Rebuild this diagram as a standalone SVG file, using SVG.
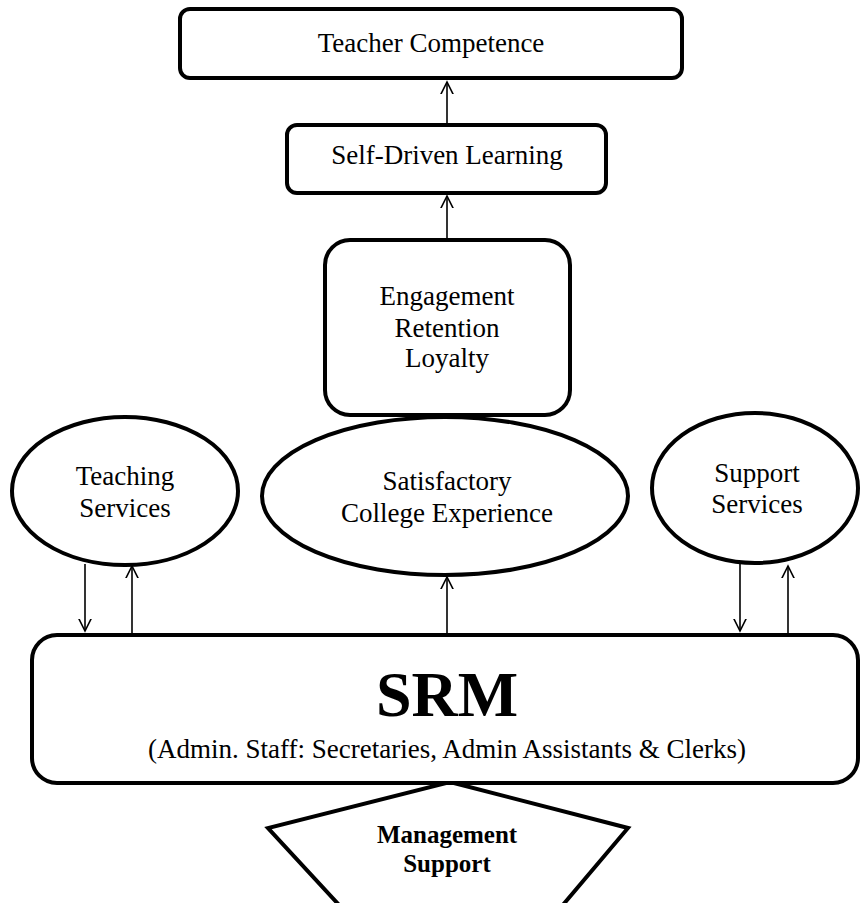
<svg xmlns="http://www.w3.org/2000/svg" width="860" height="903" viewBox="0 0 860 903">
<style>
.n{fill:#fff;stroke:#000;stroke-width:4}
.t{font-family:"Liberation Serif","Times New Roman",serif;font-size:27px;fill:#000;text-anchor:middle}
.b{font-weight:bold}
.c{stroke:#000;stroke-width:1.6;fill:none;marker-end:url(#ah)}
</style>
<defs>
<marker id="ah" markerUnits="userSpaceOnUse" markerWidth="24" markerHeight="24" viewBox="-12 -12 24 24" refX="0" refY="0" orient="auto">
<path d="M-16,-8 L0,0 L-16,8" fill="none" stroke="#000" stroke-width="1.6"/>
</marker>
</defs>
<g id="connectors">
<line class="c" x1="447" y1="125" x2="447" y2="82"/>
<line class="c" x1="447" y1="240" x2="447" y2="196"/>
<line class="c" x1="447" y1="633" x2="447" y2="577"/>
<line class="c" x1="85" y1="564" x2="85" y2="631"/>
<line class="c" x1="132" y1="633" x2="132" y2="566"/>
<line class="c" x1="740" y1="563" x2="740" y2="631"/>
<line class="c" x1="788" y1="633" x2="788" y2="566"/>
</g>
<g id="management-support">
<polygon class="n" points="450,782 628,828 562,906 340,906 268,828" stroke-width="5"/>
<text class="t b" x="447" y="843" style="font-size:25px">Management</text>
<text class="t b" x="447" y="872" style="font-size:25px">Support</text>
</g>
<g id="srm">
<rect class="n" x="32" y="635" width="826" height="148" rx="25" stroke-width="5"/>
<text class="t b" x="447" y="716" style="font-size:64px">SRM</text>
<text class="t" x="447" y="758">(Admin. Staff: Secretaries, Admin Assistants &amp; Clerks)</text>
</g>
<g id="teacher-competence">
<rect class="n" x="180" y="9" width="502" height="69" rx="10"/>
<text class="t" x="431" y="52">Teacher Competence</text>
</g>
<g id="self-driven-learning">
<rect class="n" x="287" y="125" width="319" height="68" rx="10"/>
<text class="t" x="447" y="164">Self-Driven Learning</text>
</g>
<g id="engagement">
<rect class="n" x="325" y="240" width="245" height="175" rx="25"/>
<text class="t" x="447" y="305">Engagement</text>
<text class="t" x="447" y="337">Retention</text>
<text class="t" x="447" y="367">Loyalty</text>
</g>
<g id="satisfactory">
<ellipse class="n" cx="445" cy="496" rx="183" ry="79"/>
<text class="t" x="447" y="490">Satisfactory</text>
<text class="t" x="447" y="522">College Experience</text>
</g>
<g id="teaching-services">
<ellipse class="n" cx="125" cy="491" rx="113" ry="74"/>
<text class="t" x="125" y="485">Teaching</text>
<text class="t" x="125" y="517">Services</text>
</g>
<g id="support-services">
<ellipse class="n" cx="755" cy="488" rx="103" ry="75"/>
<text class="t" x="757" y="482">Support</text>
<text class="t" x="757" y="513">Services</text>
</g>
</svg>
